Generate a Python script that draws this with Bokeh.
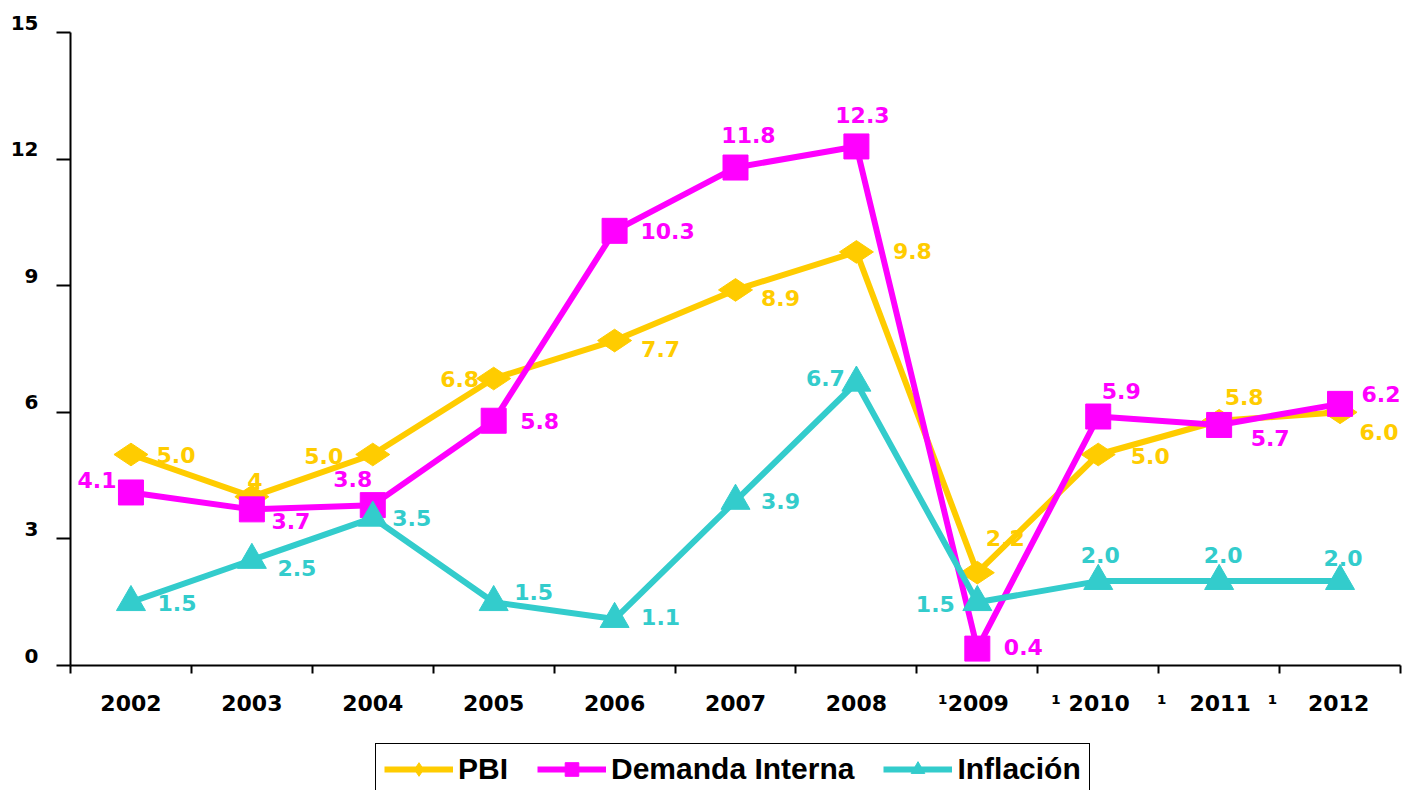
import math
from bokeh.plotting import figure
from bokeh.layouts import column
from bokeh.models import ColumnDataSource, FixedTicker, Legend, LegendItem, Range1d, LinearAxis
from bokeh.core.properties import value
from bokeh.embed import file_html
from bokeh.resources import INLINE

# ---------------- data ----------------
years = ["2002", "2003", "2004", "2005", "2006", "2007", "2008", "2009", "2010", "2011", "2012"]
pbi = [5.0, 4.0, 5.0, 6.8, 7.7, 8.9, 9.8, 2.2, 5.0, 5.8, 6.0]
demanda = [4.1, 3.7, 3.8, 5.8, 10.3, 11.8, 12.3, 0.4, 5.9, 5.7, 6.2]
inflacion = [1.5, 2.5, 3.5, 1.5, 1.1, 3.9, 6.7, 1.5, 2.0, 2.0, 2.0]
pbi_text = ["5.0", "4", "5.0", "6.8", "7.7", "8.9", "9.8", "2.2", "5.0", "5.8", "6.0"]
demanda_text = ["4.1", "3.7", "3.8", "5.8", "10.3", "11.8", "12.3", "0.4", "5.9", "5.7", "6.2"]
inflacion_text = ["1.5", "2.5", "3.5", "1.5", "1.1", "3.9", "6.7", "1.5", "2.0", "2.0", "2.0"]
y_ticks = [0, 3, 6, 9, 12, 15]
footnote_years = ["2009", "2010", "2011", "2012"]
footnote_mark = "\u00b9"
series_names = ["PBI", "Demanda Interna", "Inflación"]

# ---------------- label placement / styling (screen px) ----------------
pbi_dx = [45, 3, -49, -34, 46, 45, 56, 28, 52, 25, 39]
pbi_dy = [0, -16, 1, 0, 8, 8, -1, -35, 1, -24, 20]
dem_dx = [-34, 39, -20, 46, 53, 13, 6, 46, 23, 51, 41]
dem_dy = [-12, 12, -26, 0, 0, -33, -31, -2, -26, 13, -10]
inf_dx = [46, 45, 39, 40, 46, 45, -31, -42, 2, 4, 3]
inf_dy = [1, 8, 0, -10, -2, 0, -5, 2, -26, -26, -23]
footnote_gap = [0, 1, 3, 4]   # non-breaking spaces between mark and year
y_label_lift_px = 10          # tick labels sit slightly above their ticks

C_PBI = "#FFCC00"
C_DEM = "#FF00FF"
C_INF = "#33CCCC"
FONT = "DejaVu Sans"
NB = "\u00a0"
LW = 6

xs = list(range(len(years)))
Y0, Y1 = 0, 15
AXIS_H = 633          # px from 0 to 15
TOP_PAD = 12          # extra frame room above the top tick for its label
px_per_unit = AXIS_H / (Y1 - Y0)
y_end = Y1 + TOP_PAD / px_per_unit

p = figure(width=1407, height=725,
           x_range=Range1d(-0.5, len(years) - 0.5), y_range=Range1d(Y0, y_end),
           output_backend="svg", toolbar_location=None,
           min_border_left=70, min_border_right=7, min_border_top=32 - TOP_PAD,
           min_border_bottom=60,
           background_fill_color="white", border_fill_color="white",
           outline_line_color=None)
p.grid.visible = False

# x axis
labels = {i: y for i, y in enumerate(years)}
for yr, g in zip(footnote_years, footnote_gap):
    i = years.index(yr)
    labels[i] = footnote_mark + NB * g + yr + NB * (g + 1)

xa = p.xaxis[0]
xa.ticker = FixedTicker(ticks=xs, minor_ticks=[i - 0.5 for i in range(len(years) + 1)])
xa.major_label_overrides = labels
xa.major_tick_out = 0
xa.major_tick_in = 0
xa.minor_tick_out = 8
xa.minor_tick_in = 0
xa.minor_tick_line_color = "black"
xa.minor_tick_line_width = 2
xa.axis_line_color = "black"
xa.axis_line_width = 2
xa.major_label_standoff = 17
xa.major_label_text_font = FONT
xa.major_label_text_font_style = "bold"
xa.major_label_text_font_size = "22px"
xa.major_label_text_color = "black"

# y axis: line + ticks (labels drawn by a second axis just outside it)
ya = p.yaxis[0]
ya.ticker = FixedTicker(ticks=y_ticks)
ya.bounds = (Y0, Y1)
ya.major_label_overrides = {t: "" for t in y_ticks}
ya.major_tick_out = 14
ya.major_tick_in = 0
ya.major_tick_line_width = 2
ya.minor_tick_line_color = None
ya.axis_line_width = 2
ya.major_label_standoff = 0

shift = y_label_lift_px / px_per_unit
p.extra_y_ranges = {"lab": Range1d(Y0 - shift, y_end - shift)}
ya2 = LinearAxis(y_range_name="lab", ticker=FixedTicker(ticks=y_ticks))
ya2.axis_line_color = None
ya2.major_tick_line_color = None
ya2.minor_tick_line_color = None
ya2.major_tick_out = 0
ya2.major_tick_in = 0
ya2.major_label_standoff = 18
ya2.major_label_text_font = FONT
ya2.major_label_text_font_style = "bold"
ya2.major_label_text_font_size = "20px"
ya2.major_label_text_color = "black"
p.add_layout(ya2, "left")

# series
styles = [(pbi, C_PBI, "diamond", 34, math.pi / 2),
          (demanda, C_DEM, "square", 25, 0),
          (inflacion, C_INF, "triangle", 29, 0)]
for vals, col, mk, sz, ang in styles:
    p.line(xs, vals, line_color=col, line_width=LW)
    p.scatter(xs, vals, marker=mk, size=sz, angle=ang, fill_color=col, line_color=col)

for vals, txt, dx, dy, col in [(pbi, pbi_text, pbi_dx, pbi_dy, C_PBI),
                               (demanda, demanda_text, dem_dx, dem_dy, C_DEM),
                               (inflacion, inflacion_text, inf_dx, inf_dy, C_INF)]:
    src = ColumnDataSource(dict(x=xs, y=vals, t=txt, dx=dx, dy=dy))
    p.text(x="x", y="y", text="t", x_offset="dx", y_offset="dy", source=src,
           text_align="center", text_baseline="middle",
           text_font=value(FONT), text_font_style="bold", text_font_size="22px",
           text_color=col)

# ---------------- legend strip (series drawn out of view, only legend shown) ----------------
p2 = figure(width=1407, height=65, x_range=Range1d(100, 101), y_range=Range1d(100, 101),
            output_backend="svg", toolbar_location=None, min_border=0,
            min_border_left=70, min_border_right=7,
            outline_line_color=None, background_fill_color="white",
            border_fill_color="white")
p2.axis.visible = False
p2.grid.visible = False
items = []
for name, (vals, col, mk, sz, ang) in zip(series_names, styles):
    lr = p2.line(xs, vals, line_color=col, line_width=LW)
    sr = p2.scatter(xs, vals, marker=mk, size=sz, angle=ang, fill_color=col, line_color=col)
    items.append(LegendItem(label=name, renderers=[lr, sr]))

legend = Legend(items=items, orientation="horizontal", location=(305, -5),
                label_text_font="Liberation Sans", label_text_font_style="bold",
                label_text_font_size="30px", label_text_color="black",
                border_line_color="black", border_line_width=1.5, border_line_alpha=1,
                background_fill_color="white", background_fill_alpha=1,
                glyph_width=69, glyph_height=34, label_standoff=5, spacing=29,
                padding=8, margin=0)
p2.add_layout(legend, "center")

layout = column(p, p2, spacing=0)
open("out.html", "w").write(file_html(layout, INLINE))
